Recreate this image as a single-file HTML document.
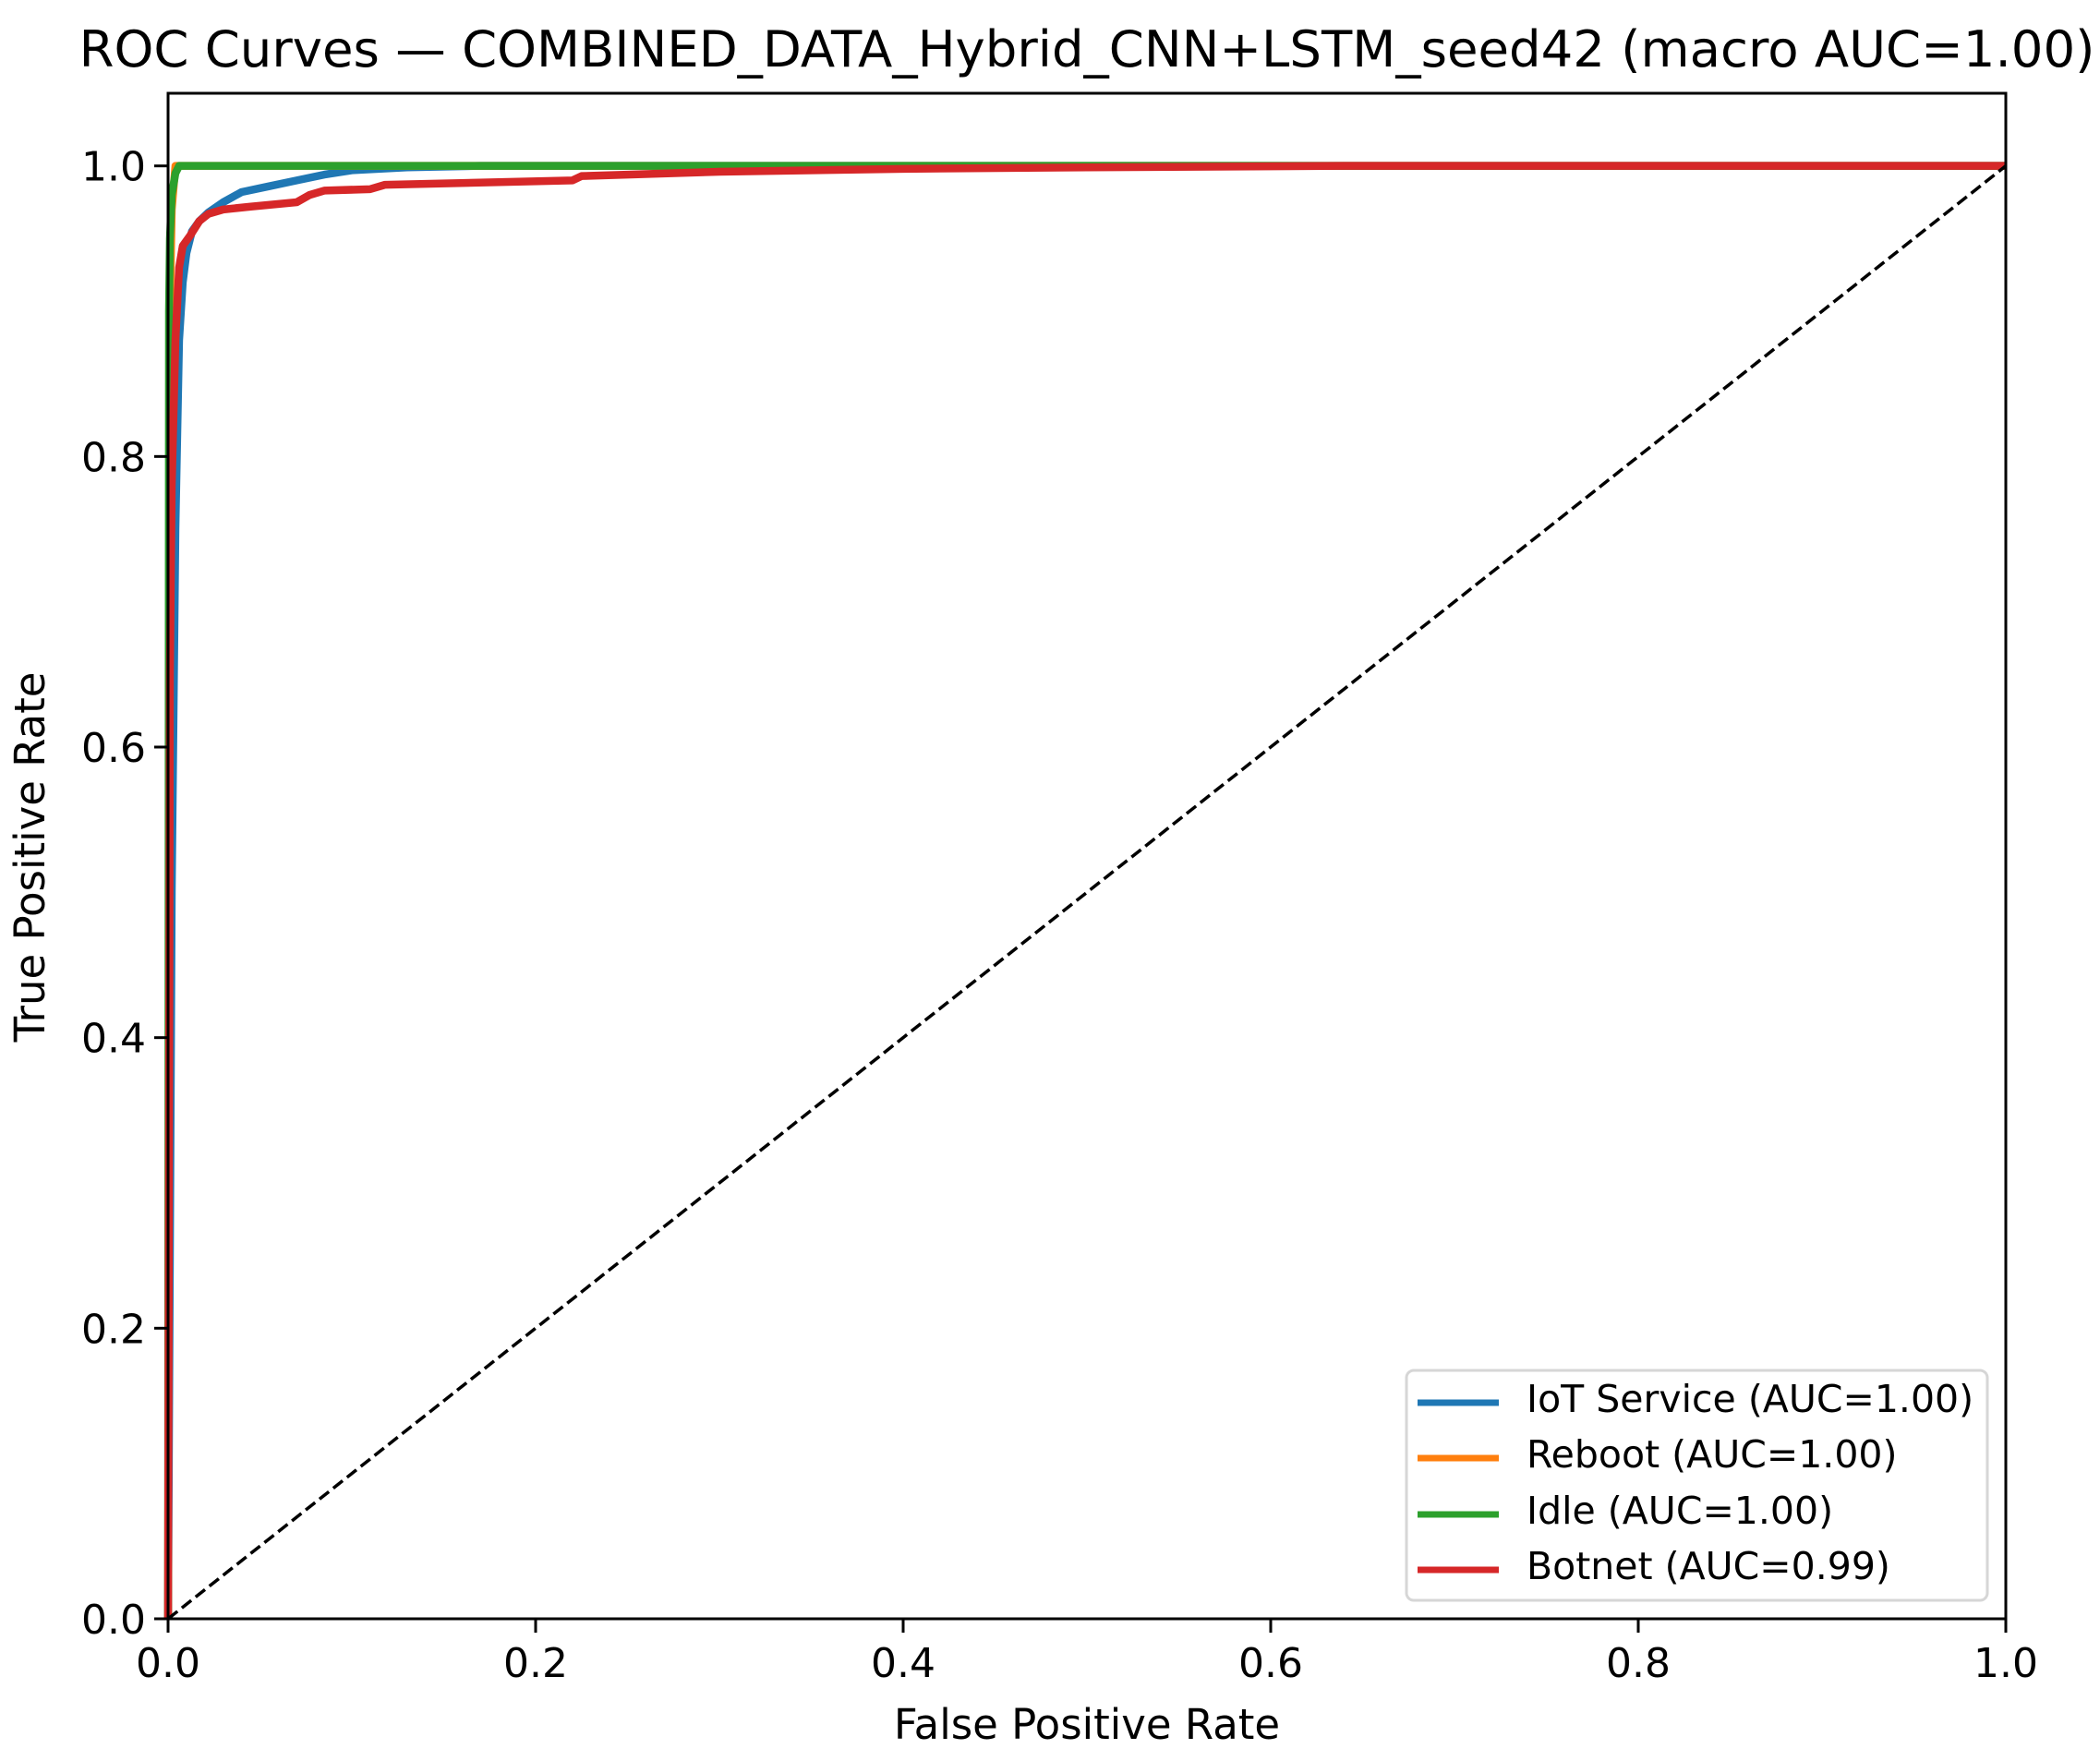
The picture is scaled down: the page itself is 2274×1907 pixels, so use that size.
<!DOCTYPE html>
<html><head><meta charset="utf-8"><style>
body{margin:0;background:#fff}
svg text{font-family:"DejaVu Sans","Liberation Sans",sans-serif;fill:#000}
</style></head><body>
<svg id="chart" width="2274" height="1902" xmlns="http://www.w3.org/2000/svg">
<rect width="2274" height="1902" fill="#fff"/>
<text x="1177" y="72" font-size="54.5" text-anchor="middle">ROC Curves — COMBINED_DATA_Hybrid_CNN+LSTM_seed42 (macro AUC=1.00)</text>
<g id="plot"></g>
<g id="axes"></g>
<text x="1177" y="1883" font-size="45" text-anchor="middle">False Positive Rate</text>
<text x="0" y="0" font-size="45" text-anchor="middle" transform="translate(48,928) rotate(-90)">True Positive Rate</text>
<g>
<rect x="1523" y="1484" width="629" height="249" rx="8" fill="#fff" fill-opacity="0.8" stroke="#d6d6d6" stroke-width="3"/>
</g>
<g id="legend-items"></g>
</svg>
<script>
const seriesNames=["IoT Service (AUC=1.00)","Reboot (AUC=1.00)","Idle (AUC=1.00)","Botnet (AUC=0.99)"];
const seriesColors=["#1f77b4","#ff7f0e","#2ca02c","#d62728"];
const iotFpr=[0,0.002,0.004,0.006,0.008,0.01,0.013,0.017,0.022,0.03,0.04,0.055,0.07,0.085,0.1,0.13,0.17,1];
const iotTpr=[0,0.5,0.75,0.88,0.92,0.94,0.955,0.962,0.968,0.975,0.982,0.986,0.99,0.994,0.997,0.999,1,1];
const rebootFpr=[0,0.001,0.002,0.004,1];
const rebootTpr=[0,0.9,0.97,1,1];
const idleFpr=[0,0.0005,0.001,0.002,0.004,0.006,1];
const idleTpr=[0,0.9,0.95,0.98,0.995,1,1];
const botFpr=[0,0.001,0.002,0.004,0.006,0.008,0.012,0.017,0.022,0.03,0.045,0.07,0.077,0.085,0.11,0.118,0.22,0.225,0.3,0.4,0.5,0.64,1];
const botTpr=[0,0.65,0.78,0.88,0.93,0.945,0.952,0.962,0.967,0.97,0.972,0.975,0.98,0.983,0.984,0.987,0.99,0.993,0.996,0.998,0.999,1,1];
const xTicks=[0,0.2,0.4,0.6,0.8,1.0];
const yTicks=[0,0.2,0.4,0.6,0.8,1.0];
const xTickLabels=["0.0","0.2","0.4","0.6","0.8","1.0"];
const yTickLabels=["0.0","0.2","0.4","0.6","0.8","1.0"];

const L=182,R=2172,T=101,B=1753,YMAX=1.05;
const sx=v=>L+v*(R-L);
const sy=v=>B-v*(B-T)/YMAX;
const NS="http://www.w3.org/2000/svg";
const plot=document.getElementById('plot'),axes=document.getElementById('axes'),leg=document.getElementById('legend-items');
function mk(tag,attrs,parent){const e=document.createElementNS(NS,tag);for(const k in attrs)e.setAttribute(k,attrs[k]);parent.appendChild(e);return e;}
const allX=[iotFpr,rebootFpr,idleFpr,botFpr],allY=[iotTpr,rebootTpr,idleTpr,botTpr];
const keys=["iot-service","reboot","idle","botnet"];
for(let i=0;i<4;i++){
 const pts=allX[i].map((x,j)=>sx(x)+","+sy(allY[i][j])).join(" ");
 const p=mk('polyline',{points:pts,fill:'none',stroke:seriesColors[i],'stroke-width':8.5,'stroke-linejoin':'round'},plot);
 
 
}
const d=mk('line',{x1:sx(0),y1:sy(0),x2:sx(1),y2:sy(1),stroke:'#000','stroke-width':3.5,'stroke-dasharray':'13 6'},plot);


const fr=mk('rect',{x:L,y:T,width:R-L,height:B-T,fill:'none',stroke:'#000','stroke-width':3},axes);


xTicks.forEach((v,i)=>{
 const t=mk('line',{x1:sx(v),x2:sx(v),y1:B,y2:B+15,stroke:'#000','stroke-width':3},axes);
 
 
 const tx=mk('text',{x:sx(v),y:B+63,'font-size':44,'text-anchor':'middle'},axes);
 tx.textContent=xTickLabels[i];
 
 
});
yTicks.forEach((v,i)=>{
 const t=mk('line',{x1:L-15,x2:L,y1:sy(v),y2:sy(v),stroke:'#000','stroke-width':3},axes);
 
 
 const tx=mk('text',{x:L-24,y:sy(v)+16,'font-size':44,'text-anchor':'end'},axes);
 tx.textContent=yTickLabels[i];
 
 
});
const rowsY=[1519,1579,1640,1700];
for(let i=0;i<4;i++){
 const l=mk('line',{x1:1535,x2:1623,y1:rowsY[i],y2:rowsY[i],stroke:seriesColors[i],'stroke-width':7},leg);
 
 
 const t=mk('text',{x:1653,y:rowsY[i]+10,'font-size':41},leg);
 t.textContent=seriesNames[i];
 
 
}
</script>
</body></html>
